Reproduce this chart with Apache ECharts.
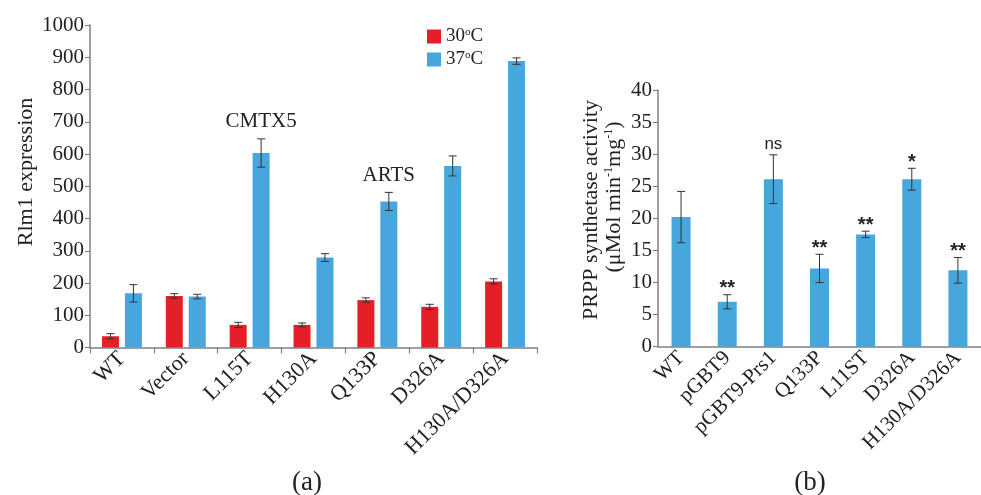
<!DOCTYPE html>
<html>
<head>
<meta charset="utf-8">
<script src="https://cdn.jsdelivr.net/npm/echarts@6/dist/echarts.min.js"></script>
<style>html,body{margin:0;padding:0;background:#fff}#c{width:981px;height:495px}</style>
</head>
<body>
<div id="c"></div>
<script>
// ---- Panel (a) data ----
const catsA = ['WT', 'Vector', 'L115T', 'H130A', 'Q133P', 'D326A', 'H130A/D326A'];
const val30 = [35, 160, 70, 70, 147, 126, 205];
const err30 = [8, 7, 8, 6, 7, 8, 8];
const val37 = [168, 158, 603, 279, 453, 563, 888];
const err37 = [27, 7, 44, 12, 28, 31, 10];
const noteA = ['', '', 'CMTX5', '', 'ARTS', '', ''];
const seriesNamesA = ['30°C', '37°C'];

// ---- Panel (b) data ----
const catsB = ['WT', 'pGBT9', 'pGBT9-Prs1', 'Q133P', 'L11ST', 'D326A', 'H130A/D326A'];
const valB = [20.2, 7.0, 26.1, 12.2, 17.5, 26.1, 11.9];
const errB = [4.0, 1.1, 3.8, 2.2, 0.5, 1.7, 2.0];
const sigB = ['', '**', 'ns', '**', '**', '*', '**'];

const RED = '#e41f27';
const BLUE = '#47a6dc';
const AX = '#808080';
const TXT = '#222';
const SERIF = '"Liberation Serif", "DejaVu Serif", serif';
const SANS = '"Liberation Sans", Arial, sans-serif';

const BW_A = 17, GAP_A = 0.35;
const OFF_A = (BW_A + BW_A * GAP_A) / 2;

function errRender(offset, notes, noteFontFn, noteDyFn) {
  return function (params, api) {
    const i = api.value(0), v = api.value(1), e = api.value(2);
    const t = api.coord([i, v + e]);
    const b = api.coord([i, v - e]);
    const x = t[0] + offset;
    const cw = 4;
    const children = [
      { type: 'line', shape: { x1: x, y1: t[1], x2: x, y2: b[1] }, style: { stroke: '#333', lineWidth: 1 } },
      { type: 'line', shape: { x1: x - cw, y1: t[1], x2: x + cw, y2: t[1] }, style: { stroke: '#333', lineWidth: 1 } },
      { type: 'line', shape: { x1: x - cw, y1: b[1], x2: x + cw, y2: b[1] }, style: { stroke: '#333', lineWidth: 1 } }
    ];
    const note = notes ? notes[params.dataIndex] : '';
    if (note) {
      children.push({
        type: 'text',
        style: { text: note, x: x, y: t[1] - noteDyFn(note), align: 'center', verticalAlign: 'middle', font: noteFontFn(note), fill: TXT }
      });
    }
    return { type: 'group', children: children };
  };
}

const chart = echarts.init(document.getElementById('c'), null, { renderer: 'canvas' });

const option = {
  animation: false,
  backgroundColor: '#fff',
  grid: [
    { left: 90, top: 25, width: 447, bottom: 147.5 },
    { left: 658, top: 90, width: 333, bottom: 148.3 }
  ],
  legend: {
    data: seriesNamesA,
    orient: 'vertical',
    left: 422, top: 22,
    icon: 'rect', itemWidth: 14, itemHeight: 14, itemGap: 4,
    textStyle: {
      fontFamily: SERIF, fontSize: 19, color: TXT,
      rich: { s: { fontFamily: SERIF, fontSize: 11, verticalAlign: 'top', padding: [0, 0, 8, 0] }, n: { fontFamily: SERIF, fontSize: 19 } }
    },
    formatter: function (n) { const p = n.split('°'); return '{n|' + p[0] + '}{s|o}{n|' + p[1] + '}'; }
  },
  xAxis: [
    {
      gridIndex: 0, type: 'category', data: catsA,
      axisLine: { lineStyle: { color: AX, width: 1.5 } },
      axisTick: { show: true, length: 6, lineStyle: { color: AX, width: 1.2 } },
      axisLabel: { rotate: 45, fontFamily: SERIF, fontSize: 22, color: TXT, margin: 8, interval: 0 }
    },
    {
      gridIndex: 1, type: 'category', data: catsB,
      axisLine: { lineStyle: { color: AX, width: 1.5 } },
      axisTick: { show: false },
      axisLabel: { rotate: 45, fontFamily: SERIF, fontSize: 21, color: TXT, margin: 8, interval: 0 }
    }
  ],
  yAxis: [
    {
      gridIndex: 0, type: 'value', min: 0, max: 1000, interval: 100,
      axisLine: { show: true, lineStyle: { color: AX, width: 1.5 } },
      axisTick: { show: true, length: 5, lineStyle: { color: AX, width: 1.2 } },
      splitLine: { show: false },
      axisLabel: { fontFamily: SERIF, fontSize: 21, color: TXT, margin: 6, formatter: function (v) { return String(v); } }
    },
    {
      gridIndex: 1, type: 'value', min: 0, max: 40, interval: 5,
      axisLine: { show: true, lineStyle: { color: AX, width: 1.5 } },
      axisTick: { show: true, length: 5, lineStyle: { color: AX, width: 1.2 } },
      splitLine: { show: false },
      axisLabel: { fontFamily: SERIF, fontSize: 21, color: TXT, margin: 6 }
    }
  ],
  series: [
    { name: seriesNamesA[0], type: 'bar', xAxisIndex: 0, yAxisIndex: 0, data: val30, barWidth: BW_A, barGap: (GAP_A * 100) + '%', itemStyle: { color: RED } },
    { name: seriesNamesA[1], type: 'bar', xAxisIndex: 0, yAxisIndex: 0, data: val37, barWidth: BW_A, barGap: (GAP_A * 100) + '%', itemStyle: { color: BLUE } },
    {
      type: 'custom', xAxisIndex: 0, yAxisIndex: 0, z: 5,
      data: catsA.map((c, i) => [i, val30[i], err30[i]]),
      renderItem: errRender(-OFF_A, null)
    },
    {
      type: 'custom', xAxisIndex: 0, yAxisIndex: 0, z: 5,
      data: catsA.map((c, i) => [i, val37[i], err37[i]]),
      renderItem: errRender(OFF_A, noteA, function () { return '21px ' + SERIF; }, function () { return 17; })
    },
    { type: 'bar', xAxisIndex: 1, yAxisIndex: 1, data: valB, barWidth: 19, itemStyle: { color: BLUE } },
    {
      type: 'custom', xAxisIndex: 1, yAxisIndex: 1, z: 5,
      data: catsB.map((c, i) => [i, valB[i], errB[i]]),
      renderItem: errRender(0, sigB,
        function (n) { return n.indexOf('*') >= 0 ? 'bold 20px ' + SANS : '17px ' + SANS; },
        function (n) { return n.indexOf('*') >= 0 ? 6 : 11; })
    }
  ],
  graphic: [
    { type: 'text', x: 26, y: 172, rotation: Math.PI / 2, style: { text: 'Rlm1 expression', font: '22px ' + SERIF, fill: TXT, align: 'center', verticalAlign: 'middle' } },
    { type: 'text', x: 591, y: 210, rotation: Math.PI / 2, style: { text: 'PRPP synthetase activity', font: '22px ' + SERIF, fill: TXT, align: 'center', verticalAlign: 'middle' } },
    {
      type: 'text', x: 614, y: 197, rotation: Math.PI / 2,
      style: {
        text: '{a|(μMol min}{s|-1}{a|mg}{s|-1}{a|)}', align: 'center', verticalAlign: 'middle', fill: TXT,
        rich: {
          a: { fontFamily: SERIF, fontSize: 22, fill: TXT },
          s: { fontFamily: SERIF, fontSize: 12, fill: TXT, verticalAlign: 'top', padding: [0, 0, 10, 0] }
        }
      }
    },
    { type: 'text', x: 307, y: 483, style: { text: '(a)', font: '27px ' + SERIF, fill: TXT, align: 'center', verticalAlign: 'middle' } },
    { type: 'text', x: 810, y: 483, style: { text: '(b)', font: '27px ' + SERIF, fill: TXT, align: 'center', verticalAlign: 'middle' } }
  ]
};
chart.setOption(option);
</script>
</body>
</html>
